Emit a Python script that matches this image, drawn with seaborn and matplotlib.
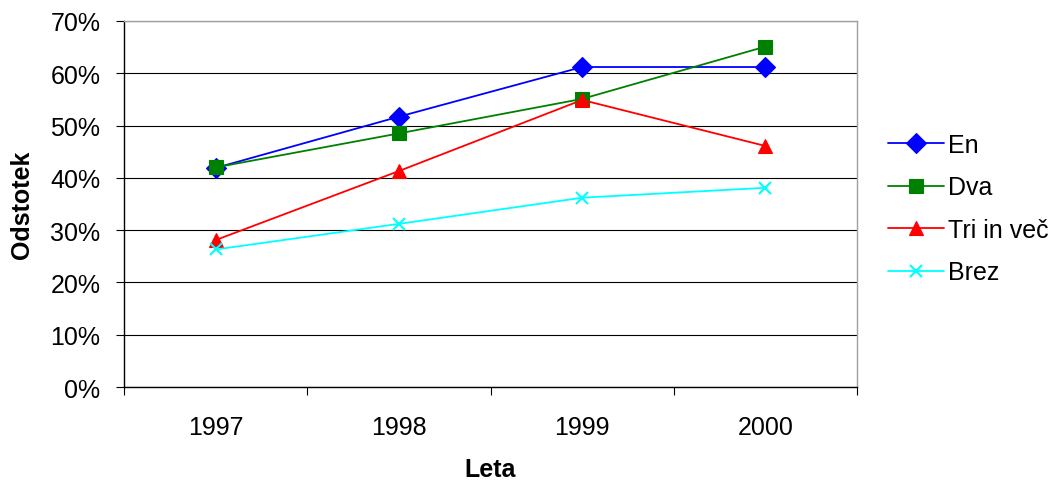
import matplotlib
matplotlib.use("Agg")
import matplotlib.pyplot as plt
import seaborn as sns
import pandas as pd
import numpy as np
from matplotlib.ticker import FixedLocator, PercentFormatter, MultipleLocator

years = ["1997", "1998", "1999", "2000"]
en = [41.9, 51.7, 61.2, 61.2]
dva = [42.0, 48.5, 55.1, 65.1]
tri = [28.1, 41.3, 54.9, 46.1]
brez = [26.3, 31.2, 36.2, 38.1]
series_names = ["En", "Dva", "Tri in več", "Brez"]

sns.set_theme(style="white")
plt.rcParams['font.family'] = ['Liberation Sans', 'DejaVu Sans']
plt.rcParams['text.color'] = 'black'
plt.rcParams['axes.labelcolor'] = 'black'

rows = []
for name, vals in zip(series_names, [en, dva, tri, brez]):
    for i, v in enumerate(vals):
        rows.append({"pos": i, "year": years[i], "value": v, "series": name})
df = pd.DataFrame(rows)

colors = {"En": "#0000FF", "Dva": "#008000", "Tri in več": "#FF0000", "Brez": "#00FFFF"}
markers = {"En": "D", "Dva": "s", "Tri in več": "^", "Brez": "x"}
msizes = {"En": 10.5, "Dva": 9.5, "Tri in več": 9.5, "Brez": 9}

FS = 18

fig = plt.figure(figsize=(10.61, 4.85), dpi=100)
ax = fig.add_axes([124/1061, 1-388/485, (857-124)/1061, (388-22)/485])

handles = []
for name in series_names:
    sub = df[df.series == name]
    sns.lineplot(data=sub, x="pos", y="value", ax=ax, color=colors[name],
                 linewidth=1.3, legend=False)
    ln = ax.lines[-1]
    ln.set_marker(markers[name])
    ln.set_markersize(msizes[name])
    ln.set_markerfacecolor(colors[name])
    ln.set_markeredgecolor(colors[name])
    ln.set_markeredgewidth(1.5 if name == "Brez" else 0.8)
    ln.set_label(name)
    handles.append(ln)

ax.set_xlim(-0.5, 3.5)
ax.set_ylim(0, 70)
ax.yaxis.set_major_locator(MultipleLocator(10))
ax.yaxis.set_major_formatter(PercentFormatter(decimals=0))
ax.grid(axis="y", color="black", linewidth=0.8)
ax.set_axisbelow(True)

ax.set_xticks(range(len(years)))
ax.set_xticklabels(years)
ax.xaxis.set_minor_locator(FixedLocator(np.arange(-0.5, 3.6, 1.0)))
ax.tick_params(axis="x", which="major", length=0, pad=20, labelsize=FS, colors="black")
ax.tick_params(axis="x", which="minor", length=6, width=0.8, color="black", direction="out", bottom=True)
ax.tick_params(axis="y", which="major", length=6, width=0.8, color="black", direction="out",
               left=True, pad=11, labelsize=FS, labelcolor="black")

for s in ["left", "bottom"]:
    ax.spines[s].set_color("black")
    ax.spines[s].set_linewidth(1.0)
for s in ["top", "right"]:
    ax.spines[s].set_visible(True)
    ax.spines[s].set_color("#A0A0A0")
    ax.spines[s].set_linewidth(1.0)

ax.set_xlabel("Leta", fontsize=FS, fontweight="bold", va="center", color="black")
ax.xaxis.set_label_coords(0.5, (388-470)/366)
ax.set_ylabel("Odstotek", fontsize=FS, fontweight="bold", va="center", color="black")
ax.yaxis.set_label_coords((22-124)/733, 0.5)

fig.legend(handles=handles, labels=series_names, loc="center left",
           bbox_to_anchor=(888/1061, 1-209.5/485), frameon=False,
           fontsize=FS, handlelength=2.25, handletextpad=0.15,
           labelspacing=0.74, borderpad=0, borderaxespad=0, labelcolor="black")

fig.savefig("out.png", dpi=100, facecolor="white")
